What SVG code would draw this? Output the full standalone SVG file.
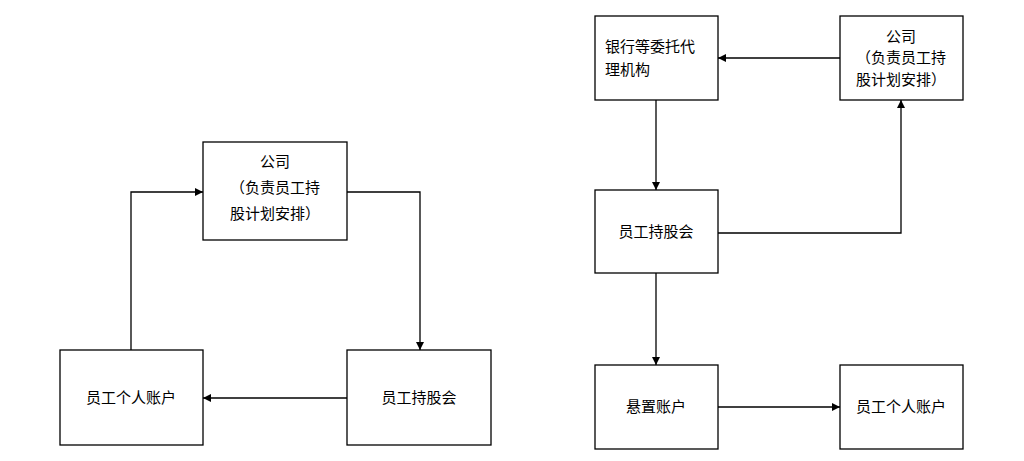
<svg xmlns="http://www.w3.org/2000/svg" width="1024" height="461" viewBox="0 0 1024 461">
<style>
.b{fill:#fff;stroke:#000;stroke-width:1.3}
.t{font-family:"Liberation Sans","Noto Sans CJK SC",sans-serif;font-size:15px;fill:#000}
.c{text-anchor:middle}
.l{fill:none;stroke:#000;stroke-width:1.3;marker-end:url(#a)}
</style>
<defs><marker id="a" viewBox="0 0 10 10" refX="10" refY="5" markerWidth="8" markerHeight="8" orient="auto" markerUnits="userSpaceOnUse"><path d="M0,0L10,5L0,10z" fill="#000"/></marker></defs>
<rect width="1024" height="461" fill="#fff"/>
<g id="n1"><rect class="b" x="203" y="142" width="144" height="98"/><text class="t c" x="275" y="167">公司</text><text class="t c" x="275" y="193">（负责员工持</text><text class="t c" x="275" y="219">股计划安排）</text></g>
<g id="n2"><rect class="b" x="60" y="350" width="143" height="95"/><text class="t c" x="131" y="403">员工个人账户</text></g>
<g id="n3"><rect class="b" x="347" y="350" width="144" height="95"/><text class="t c" x="419" y="403">员工持股会</text></g>
<g id="n4"><rect class="b" x="595" y="16" width="123" height="84"/><text class="t" x="605" y="52">银行等委托代</text><text class="t" x="605" y="75">理机构</text></g>
<g id="n5"><rect class="b" x="840" y="16" width="123" height="84"/><text class="t c" x="901" y="42">公司</text><text class="t c" x="901" y="63">（负责员工持</text><text class="t c" x="901" y="85">股计划安排）</text></g>
<g id="n6"><rect class="b" x="595" y="190" width="123" height="83"/><text class="t c" x="656" y="237">员工持股会</text></g>
<g id="n7"><rect class="b" x="595" y="365" width="123" height="84"/><text class="t c" x="656" y="412">悬置账户</text></g>
<g id="n8"><rect class="b" x="840" y="365" width="123" height="84"/><text class="t c" x="901" y="412">员工个人账户</text></g>
<g id="edges">
<path class="l" d="M347,192H420V350"/>
<path class="l" d="M347,398H203"/>
<path class="l" d="M131,350V192H203"/>
<path class="l" d="M840,58H718"/>
<path class="l" d="M656,100V190"/>
<path class="l" d="M718,233H901V100"/>
<path class="l" d="M656,273V365"/>
<path class="l" d="M718,407H840"/>
</g>
</svg>
